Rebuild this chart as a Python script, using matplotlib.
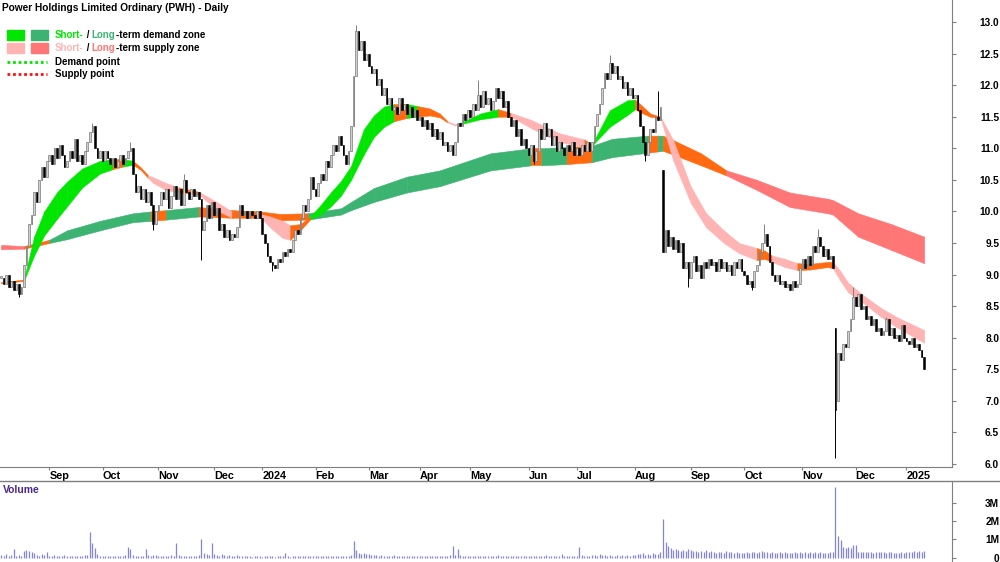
import matplotlib
matplotlib.use("Agg")
import matplotlib.pyplot as plt
import numpy as np
import pandas as pd
from matplotlib.lines import Line2D
from matplotlib.patches import Rectangle

plt.rcParams['font.family'] = ['Liberation Sans', 'DejaVu Sans']

title = "Power Holdings Limited Ordinary (PWH) - Daily"
start_date = "2023-08-07"
asx_holidays = ["2023-12-25", "2023-12-26", "2024-01-01", "2024-01-26", "2024-03-29",
                "2024-04-01", "2024-04-25", "2024-06-10", "2024-12-25", "2024-12-26",
                "2025-01-01"]

# daily closes, one list per month
close_aug23 = [8.95, 8.85, 9.0, 8.8, 8.9, 8.75, 8.85, 8.7, 8.8, 9.15, 9.45, 9.8, 9.95, 10.3, 10.15, 10.5, 10.7, 10.55, 10.8]
close_sep23 = [10.9, 10.75, 11.0, 10.85, 11.05, 10.9, 10.7, 10.8, 10.95, 10.85, 11.15, 10.8, 10.9, 10.75, 10.95, 11.1, 11.25, 11.35, 11.0, 10.85, 10.95]
close_oct23 = [10.8, 10.95, 10.85, 10.75, 10.85, 10.7, 10.8, 10.9, 10.75, 10.85, 10.95, 11.0, 10.6, 10.3, 10.4, 10.2, 10.35, 10.15, 10.3, 10.1, 9.8, 10.0]
close_nov23 = [10.1, 10.3, 10.2, 10.35, 10.05, 10.25, 10.4, 10.2, 10.35, 10.1, 10.5, 10.3, 10.2, 10.35, 10.25, 10.3, 10.2, 9.7, 9.85, 10.1, 9.9, 10.15]
close_dec23 = [9.95, 10.05, 9.7, 9.8, 9.6, 9.7, 9.55, 9.65, 9.6, 9.75, 10.1, 9.95, 10.0, 9.9, 10.0, 9.95, 9.9, 10.0, 9.9]
close_jan24 = [9.65, 9.5, 9.3, 9.2, 9.15, 9.1, 9.25, 9.2, 9.35, 9.3, 9.4, 9.35, 9.55, 9.7, 9.65, 9.9, 10.1, 10.0, 10.2, 10.55, 10.35]
close_feb24 = [10.25, 10.45, 10.6, 10.5, 10.8, 10.7, 10.9, 11.05, 10.95, 11.2, 11.05, 10.9, 10.75, 10.95, 11.35, 12.15, 12.85, 12.55, 12.7, 12.4, 12.5]
close_mar24 = [12.3, 12.2, 12.25, 12.0, 12.1, 11.85, 11.95, 11.7, 11.8, 11.6, 11.65, 11.55, 11.8, 11.6, 11.7, 11.55, 11.65, 11.5, 11.6, 11.45]
close_apr24 = [11.5, 11.35, 11.45, 11.3, 11.4, 11.2, 11.3, 11.15, 11.25, 11.05, 11.1, 10.95, 11.05, 10.9, 11.1, 11.4, 11.35, 11.55, 11.45, 11.6]
close_may24 = [11.5, 11.7, 11.6, 11.85, 11.65, 11.9, 11.7, 11.8, 11.6, 11.75, 11.95, 11.8, 11.9, 11.65, 11.75, 11.5, 11.35, 11.45, 11.2, 11.3, 11.05, 11.15, 11.0]
close_jun24 = [10.9, 11.05, 10.8, 10.95, 11.3, 11.15, 11.4, 11.2, 11.3, 11.05, 11.2, 10.95, 11.1, 11.0, 10.9, 11.05, 10.95, 11.1, 10.9]
close_jul24 = [11.0, 10.9, 11.05, 10.95, 11.1, 10.95, 11.1, 11.35, 11.55, 11.7, 11.95, 12.2, 12.1, 12.35, 12.2, 12.3, 12.1, 12.15, 11.95, 12.05, 11.85, 11.95, 11.8]
close_aug24 = [11.85, 11.6, 11.35, 11.1, 10.9, 11.1, 11.3, 11.25, 11.5, 11.45, 11.65, 9.35, 9.7, 9.45, 9.6, 9.4, 9.55, 9.35, 9.5, 9.1, 9.2, 8.95]
close_sep24 = [9.2, 9.3, 9.05, 9.15, 8.95, 9.2, 9.1, 9.25, 9.15, 9.2, 9.05, 9.25, 9.1, 9.2, 9.05, 9.15, 9.0, 9.2, 9.1, 9.25, 9.05]
close_oct24 = [9.0, 8.85, 8.9, 8.8, 9.05, 9.15, 9.35, 9.5, 9.65, 9.45, 9.2, 9.0, 8.9, 9.0, 8.85, 8.9, 8.8, 8.85, 8.75, 8.9, 8.8, 8.85, 9.1]
close_nov24 = [9.25, 9.1, 9.3, 9.15, 9.45, 9.35, 9.6, 9.45, 9.3, 9.4, 9.25, 9.3, 9.1, 6.85, 7.75, 7.65, 7.9, 7.85, 8.1, 8.3, 8.65]
close_dec24 = [8.5, 8.7, 8.45, 8.5, 8.3, 8.35, 8.2, 8.3, 8.1, 8.15, 8.05, 8.1, 8.3, 8.05, 8.15, 8.0, 8.05, 7.95, 8.2, 8.0]
close_jan25 = [7.95, 7.9, 8.0, 7.85, 7.9, 7.8, 7.7, 7.5]

# opens that gap away from the previous close, and wick extremes (by bar number)
gap_opens = {261: 10.65, 329: 8.15, 330: 7.0}
wick_highs = {36: 11.4, 51: 11.1, 72: 10.6, 140: 12.95, 188: 12.08, 240: 12.48, 259: 11.9, 301: 9.8, 322: 9.72, 336: 8.8, 349: 8.33}
wick_lows = {7: 8.65, 60: 9.7, 79: 9.23, 107: 9.05, 178: 10.9, 210: 10.75, 254: 10.8, 271: 8.8, 296: 8.75, 329: 6.1}

# volume in thousands, one list per month
vol_aug23 = [150, 120, 180, 90, 140, 480, 110, 130, 100, 380, 420, 350, 300, 260, 150, 120, 180, 140, 300]
vol_sep23 = [120, 90, 140, 100, 80, 110, 130, 90, 70, 100, 120, 80, 110, 90, 150, 130, 1420, 780, 550, 180, 120]
vol_oct23 = [110, 90, 80, 120, 100, 70, 90, 110, 80, 130, 600, 450, 150, 120, 100, 90, 110, 500, 140, 120, 160, 130]
vol_nov23 = [100, 120, 90, 80, 110, 130, 90, 820, 150, 110, 90, 100, 120, 80, 90, 110, 140, 1040, 250, 180, 160, 780]
vol_dec23 = [200, 150, 120, 180, 140, 100, 130, 110, 90, 160, 120, 100, 80, 70, 90, 60, 80, 70, 90]
vol_jan24 = [60, 80, 70, 90, 100, 60, 80, 70, 90, 250, 80, 60, 70, 90, 80, 100, 70, 90, 110, 80, 120]
vol_feb24 = [90, 110, 80, 100, 70, 90, 120, 80, 100, 90, 110, 80, 100, 120, 150, 910, 400, 250, 200, 230, 180]
vol_mar24 = [200, 150, 130, 160, 120, 140, 100, 120, 90, 110, 130, 100, 80, 120, 90, 110, 100, 80, 90, 120]
vol_apr24 = [90, 110, 80, 100, 120, 90, 80, 110, 100, 90, 120, 100, 130, 650, 150, 500, 130, 110, 90, 100]
vol_may24 = [80, 110, 90, 100, 70, 120, 90, 80, 100, 110, 90, 150, 80, 100, 120, 90, 110, 80, 100, 90, 120, 80, 100]
vol_jun24 = [90, 110, 80, 100, 120, 90, 100, 160, 80, 110, 90, 100, 80, 200, 90, 110, 80, 100, 90]
vol_jul24 = [120, 600, 150, 110, 90, 100, 130, 150, 120, 180, 140, 160, 110, 130, 100, 120, 140, 110, 130, 100, 150, 120, 140]
vol_aug24 = [160, 200, 180, 250, 150, 200, 170, 230, 190, 220, 300, 2100, 850, 650, 550, 420, 450, 400, 380, 430, 360, 500]
vol_sep24 = [420, 350, 380, 300, 360, 330, 400, 310, 350, 300, 280, 330, 300, 260, 350, 290, 310, 270, 300, 280, 260]
vol_oct24 = [280, 300, 260, 290, 310, 270, 300, 350, 320, 290, 270, 300, 280, 260, 290, 270, 300, 250, 280, 260, 290, 270, 300]
vol_nov24 = [280, 300, 260, 290, 270, 310, 280, 300, 260, 280, 270, 290, 300, 3850, 1190, 980, 560, 540, 560, 520, 700]
vol_dec24 = [680, 320, 300, 310, 290, 320, 300, 280, 310, 290, 300, 320, 280, 300, 290, 270, 280, 260, 290, 250]
vol_jan25 = [300, 330, 310, 350, 320, 340, 310, 350]

# short-term zone edges at anchor bars; colour key applies to the stretch after each anchor
st_bar = [0, 9, 13, 17, 22, 26, 32, 39, 44, 48, 52, 55, 58, 60, 65, 70, 78, 85, 91, 96, 102, 106, 111, 114, 118,
          122, 126, 130, 134, 138, 143, 147, 151, 155, 160, 164, 169, 173, 176, 179, 181, 189, 196, 201, 209, 220,
          230, 233, 240, 247, 250, 252, 256, 260, 265, 272, 278, 285, 291, 298, 301, 304, 309, 314, 319, 326, 328,
          331, 334, 340, 347, 353, 364]
st_hi = [8.88, 8.92, 9.6, 10.0, 10.3, 10.47, 10.68, 10.8, 10.83, 10.83, 10.8, 10.7, 10.57, 10.54, 10.45, 10.38, 10.31,
         10.15, 10.0, 9.98, 9.96, 9.92, 9.85, 9.78, 9.8, 9.92, 10.1, 10.3, 10.48, 10.72, 11.3, 11.52, 11.66, 11.7, 11.7,
         11.67, 11.63, 11.55, 11.43, 11.38, 11.4, 11.55, 11.62, 11.56, 11.45, 11.24, 11.14, 11.06, 11.6, 11.76, 11.77,
         11.7, 11.55, 11.5, 11.13, 10.39, 9.97, 9.7, 9.5, 9.42, 9.38, 9.3, 9.25, 9.18, 9.17, 9.2, 9.2, 9.05, 8.87,
         8.67, 8.47, 8.33, 8.12]
st_lo = [8.86, 8.9, 9.3, 9.62, 9.88, 10.08, 10.38, 10.6, 10.67, 10.71, 10.74, 10.66, 10.53, 10.45, 10.34, 10.3, 10.27,
         10.02, 9.9, 9.94, 9.92, 9.75, 9.58, 9.55, 9.7, 9.88, 9.95, 10.08, 10.25, 10.5, 10.9, 11.18, 11.34, 11.43, 11.48,
         11.5, 11.52, 11.49, 11.41, 11.36, 11.38, 11.46, 11.5, 11.5, 11.32, 11.1, 11.02, 11.04, 11.34, 11.53, 11.62,
         11.57, 11.5, 11.48, 10.81, 10.13, 9.75, 9.5, 9.34, 9.23, 9.25, 9.2, 9.12, 9.07, 9.08, 9.12, 9.1, 8.9, 8.72,
         8.55, 8.33, 8.17, 7.92]
st_key = ("oggggggg" "og" "oopppoppoo" "pppooggggg" "gggogooopp" "ggopppoggg"
          "oooppppppo" "oppooopppp" "ppp")

# long-term zone edges
lt_bar = [0, 9, 19, 26, 39, 52, 59, 65, 78, 91, 102, 110, 121, 134, 138, 147, 160, 173, 193, 209, 213, 223, 233, 241,
          255, 259, 261, 265, 276, 286, 298, 311, 326, 328, 338, 351, 364]
lt_hi = [9.47, 9.45, 9.55, 9.7, 9.85, 9.97, 10.0, 10.02, 10.07, 10.02, 10.0, 9.96, 9.97, 10.05, 10.15, 10.37, 10.55,
         10.65, 10.92, 11.0, 11.0, 11.02, 11.04, 11.15, 11.2, 11.2, 11.2, 11.13, 10.92, 10.65, 10.5, 10.3, 10.2, 10.18,
         9.97, 9.8, 9.6]
lt_lo = [9.4, 9.41, 9.5, 9.56, 9.7, 9.83, 9.85, 9.87, 9.92, 9.9, 9.9, 9.86, 9.87, 9.95, 10.02, 10.15, 10.3, 10.4,
         10.65, 10.73, 10.73, 10.75, 10.78, 10.86, 10.93, 10.95, 10.96, 10.9, 10.73, 10.57, 10.34, 10.07, 9.97, 9.95,
         9.6, 9.39, 9.18]
lt_key = "RoGGGGoGoo" "ooGGGGGGGo" "GoGGoGoooR" "RRRRRRR"

zone_colours = {'g': '#00e600', 'p': '#ffb4b4', 'G': '#3cb371', 'R': '#ff7676', 'o': '#ff6a10'}

closes = (close_aug23 + close_sep23 + close_oct23 + close_nov23 + close_dec23 + close_jan24 + close_feb24 +
          close_mar24 + close_apr24 + close_may24 + close_jun24 + close_jul24 + close_aug24 + close_sep24 +
          close_oct24 + close_nov24 + close_dec24 + close_jan25)
volumes = (vol_aug23 + vol_sep23 + vol_oct23 + vol_nov23 + vol_dec23 + vol_jan24 + vol_feb24 + vol_mar24 +
           vol_apr24 + vol_may24 + vol_jun24 + vol_jul24 + vol_aug24 + vol_sep24 + vol_oct24 + vol_nov24 +
           vol_dec24 + vol_jan25)

n = len(closes)
dates = pd.bdate_range(start_date, periods=n, freq='C', holidays=asx_holidays)
bars = np.arange(n)
c = np.array(closes)
o = np.array([closes[0]] + closes[:-1])
for k, v in gap_opens.items():
    o[k] = v
hi = np.maximum(o, c)
lo = np.minimum(o, c)
for k, v in wick_highs.items():
    hi[k] = max(hi[k], v)
for k, v in wick_lows.items():
    lo[k] = min(lo[k], v)

W, H = 1000, 562
fig = plt.figure(figsize=(10, 5.62), dpi=100)
ax = fig.add_axes([0, 1 - 467 / H, 952 / W, 467 / H])
axv = fig.add_axes([0, 0, 952 / W, 81 / H])

# zones: long-term first, short-term over it
for bar, top, bot, key in [(lt_bar, lt_hi, lt_lo, lt_key), (st_bar, st_hi, st_lo, st_key)]:
    for k in range(len(bar) - 1):
        col = zone_colours[key[k]]
        ax.fill_between(bar[k:k + 2], bot[k:k + 2], top[k:k + 2], color=col, edgecolor=col, lw=0.4, zorder=1)

# candles
up = c >= o
ax.vlines(bars, lo, hi, colors=np.where(up, '#808080', 'black'), lw=0.7, zorder=3)
body = np.maximum(np.abs(c - o), 0.02)
ax.bar(bars[up], body[up], bottom=o[up], width=0.65, color='#d0d0d0', edgecolor='#7a7a7a', lw=0.5, zorder=4)
ax.bar(bars[~up], body[~up], bottom=c[~up], width=0.65, color='black', edgecolor='black', lw=0.4, zorder=4)

ax.set_xlim(-0.43, 374.96)
ax.set_ylim(13 - 445 / 63.14, 13 + 22 / 63.14)
yt = np.arange(6.0, 13.01, 0.5)
ax.set_yticks(yt)
ax.set_yticklabels(['%.1f' % v for v in yt])
ax.yaxis.tick_right()
ax.tick_params(axis='y', direction='out', length=3, color='#7f7f7f', pad=31, labelsize=7.3)
for t in ax.get_yticklabels():
    t.set_ha('right')
    t.set_fontweight('bold')

month_pos = [i for i in range(1, n) if dates[i].month != dates[i - 1].month]
month_lab = [str(dates[i].year) if dates[i].month == 1 else dates[i].strftime('%b') for i in month_pos]
ax.set_xticks(month_pos)
ax.set_xticklabels(month_lab)
ax.tick_params(axis='x', direction='out', length=2, color='#7f7f7f', pad=1, labelsize=7.8)
for t in ax.get_xticklabels():
    t.set_ha('left')
    t.set_fontweight('bold')

for s in ['left', 'top']:
    ax.spines[s].set_visible(False)
for s in ['right', 'bottom']:
    ax.spines[s].set_color('#7f7f7f')

# volume
axv.vlines(bars, 0, np.array(volumes) / 1000.0, colors='#8484da', lw=0.9)
axv.set_xlim(-0.43, 374.96)
axv.set_ylim(-0.235, 4.19)
axv.set_xticks([])
axv.yaxis.tick_right()
axv.set_yticks([0, 1, 2, 3])
axv.set_yticklabels(['0', '1M', '2M', '3M'])
axv.tick_params(axis='y', direction='out', length=3, color='#7f7f7f', pad=31, labelsize=7.3)
for t in axv.get_yticklabels():
    t.set_ha('right')
    t.set_fontweight('bold')
for s in ['left', 'top', 'bottom']:
    axv.spines[s].set_visible(False)
axv.spines['right'].set_color('#7f7f7f')
axv.patch.set_alpha(0)
fig.text(3 / W, 1 - 490 / H, "Volume", color='#4b2790', fontsize=7.5, fontweight='bold', va='center')
fig.add_artist(Line2D([0, 1], [1 - 481 / H] * 2, color='#7f7f7f', lw=1))

# title and legend
fig.text(2 / W, 1 - 8 / H, title, fontsize=7.3, fontweight='bold', va='center')


def legend_row(y, parts):
    t = fig.text(55 / W, 1 - y / H, parts[0][0], color=parts[0][1], fontsize=7.0, fontweight='bold', va='center')
    for s, col in parts[1:]:
        t = ax.annotate(s, xy=(1, 0), xycoords=t, va='bottom', color=col, fontsize=7.0, fontweight='bold')


for y, c1, c2 in [(35, '#00e600', '#3cb371'), (48, '#ffb4b4', '#ff7676')]:
    fig.add_artist(Rectangle((7 / W, 1 - (y + 5) / H), 17 / W, 10 / H, color=c1, transform=fig.transFigure))
    fig.add_artist(Rectangle((31 / W, 1 - (y + 5) / H), 17 / W, 10 / H, color=c2, transform=fig.transFigure))
legend_row(35, [("Short-", '#00e600'), (" / ", 'black'), ("Long", '#3cb371'), ("-term demand zone", 'black')])
legend_row(48, [("Short-", '#ffb4b4'), (" / ", 'black'), ("Long", '#ff7676'), ("-term supply zone", 'black')])
fig.add_artist(Line2D([7 / W, 47 / W], [1 - 62 / H] * 2, color='#00e600', lw=2, ls=(0, (1, 1))))
fig.add_artist(Line2D([7 / W, 47 / W], [1 - 74 / H] * 2, color='#ff1010', lw=2, ls=(0, (1, 1))))
fig.text(55 / W, 1 - 62 / H, "Demand point", fontsize=7.0, fontweight='bold', va='center')
fig.text(55 / W, 1 - 74 / H, "Supply point", fontsize=7.0, fontweight='bold', va='center')

fig.savefig("out.png", dpi=100)
